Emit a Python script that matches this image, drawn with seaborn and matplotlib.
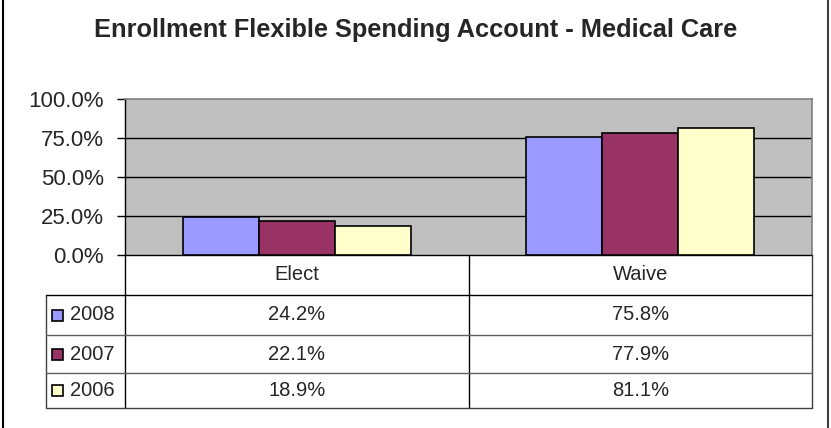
import pandas as pd
import matplotlib.pyplot as plt
import seaborn as sns
from matplotlib.ticker import PercentFormatter

# ----------------------------
# Data
# ----------------------------
categories = ["Elect", "Waive"]
years = ["2008", "2007", "2006"]
pct_2008 = [24.2, 75.8]
pct_2007 = [22.1, 77.9]
pct_2006 = [18.9, 81.1]
colors = ["#9999FF", "#993366", "#FFFFCC"]

rows = []
for year, vals in zip(years, [pct_2008, pct_2007, pct_2006]):
    for cat, v in zip(categories, vals):
        rows.append({"Category": cat, "Year": year, "Value": v})
df = pd.DataFrame(rows)

sns.set_style("white")
plt.rcParams["font.family"] = ["Liberation Sans", "DejaVu Sans"]

W, H = 831, 428
fig = plt.figure(figsize=(W / 100, H / 100), dpi=100)

# plot area in pixel coords
px_left, px_right, px_top, px_bottom = 125, 812, 99, 255
ax = fig.add_axes([px_left / W, 1 - px_bottom / H,
                   (px_right - px_left) / W, (px_bottom - px_top) / H])
ax.set_facecolor("#C0C0C0")

sns.barplot(data=df, x="Category", y="Value", hue="Year", hue_order=years,
            palette=colors, saturation=1, width=0.664, edgecolor="black",
            linewidth=1.2, errorbar=None, legend=False, ax=ax, zorder=3)

ax.set_ylim(0, 100)
ax.set_yticks([0, 25, 50, 75, 100])
ax.yaxis.set_major_formatter(PercentFormatter(decimals=1))
ax.tick_params(axis="y", direction="out", length=6, width=1, pad=9,
               labelsize=16, left=True, color="black")
ax.set_xticks([])
ax.set_xlabel("")
ax.set_ylabel("")
ax.set_xlim(-0.5, 1.5)
for y in [25, 50, 75]:
    ax.axhline(y, color="black", linewidth=1, zorder=1)
for side in ["left", "bottom"]:
    ax.spines[side].set_color("black")
    ax.spines[side].set_linewidth(1)
for side in ["top", "right"]:
    ax.spines[side].set_color("#808080")
    ax.spines[side].set_linewidth(1.2)

# ----------------------------
# Title + data table (pixel overlay)
# ----------------------------
ov = fig.add_axes([0, 0, 1, 1], zorder=5)
ov.set_xlim(0, W)
ov.set_ylim(H, 0)
ov.axis("off")
ov.patch.set_alpha(0)

ov.text(416, 30, "Enrollment Flexible Spending Account - Medical Care",
        ha="center", va="center", fontsize=18.3, fontweight="bold")

# outer border
ov.plot([3, 3], [0, H], color="black", lw=1.5)
ov.plot([828, 828], [0, H], color="#404040", lw=1.5)

col_mid = (px_left + px_right) / 2
row_edges = [255, 295, 335, 373, 408]
tab_left = 46

ov.plot([px_left, px_left], [row_edges[0], row_edges[-1]], color="black", lw=1)
ov.plot([col_mid, col_mid], [row_edges[0], row_edges[-1]], color="black", lw=1)
ov.plot([px_right, px_right], [row_edges[0], row_edges[-1]], color="#404040", lw=1)
ov.plot([tab_left, tab_left], [row_edges[1], row_edges[-1]], color="#404040", lw=1)
ov.plot([tab_left, px_right], [row_edges[1], row_edges[1]], color="black", lw=1)
ov.plot([tab_left, px_right], [row_edges[2], row_edges[2]], color="#606060", lw=1)
ov.plot([tab_left, px_right], [row_edges[3], row_edges[3]], color="#606060", lw=1)
ov.plot([tab_left, px_right], [row_edges[4], row_edges[4]], color="#404040", lw=1)

cat_centers = [(px_left + col_mid) / 2, (col_mid + px_right) / 2]
for cx, cat in zip(cat_centers, categories):
    ov.text(cx, 274, cat, ha="center", va="center", fontsize=14.5)

for i, (year, vals, c) in enumerate(zip(years, [pct_2008, pct_2007, pct_2006], colors)):
    yc = (row_edges[i + 1] + row_edges[i + 2]) / 2
    ov.add_patch(plt.Rectangle((52, yc - 5.5), 11, 11, facecolor=c,
                               edgecolor="black", lw=1.2))
    ov.text(70, yc, year, ha="left", va="center", fontsize=14.5)
    for cx, v in zip(cat_centers, vals):
        ov.text(cx, yc, f"{v:.1f}%", ha="center", va="center", fontsize=14.5)

fig.savefig("out.png", dpi=100)
plt.close(fig)
